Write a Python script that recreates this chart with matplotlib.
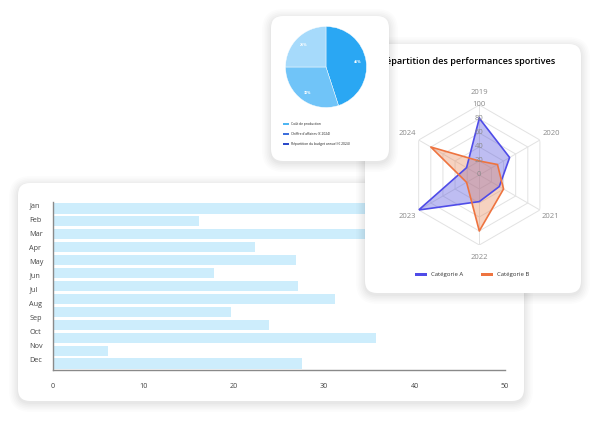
import numpy as np
import matplotlib
matplotlib.use("Agg")
import matplotlib.pyplot as plt
from matplotlib.patches import FancyBboxPatch
from matplotlib.transforms import IdentityTransform

plt.rcParams['font.family'] = ['Open Sans', 'DejaVu Sans']

# bar chart data (13 bars drawn against 12 month labels, as in the original)
months = ["Jan", "Feb", "Mar", "Apr", "May", "Jun",
          "Jul", "Aug", "Sep", "Oct", "Nov", "Dec"]
bar_values = [38, 16.2, 40, 22.3, 26.9, 17.8, 27.1, 31.2, 19.7, 23.9, 35.7, 6.1, 27.5]
bar_ticks = [0, 10, 20, 30, 40, 50]

# pie data
pie_values = [45, 30, 25]
pie_labels = ["45%", "30%", "25%"]
pie_colors = ["#2aa7f3", "#70c4f8", "#a6dafb"]
pie_legend = ["Coût de production", "Chiffre d'affaires (€ 2024)",
              "Répartition du budget annuel (€ 2024)"]
pie_legend_colors = ["#4fb6f2", "#3d6fdc", "#2b49c9"]

# radar data
years = ["2019", "2020", "2021", "2022", "2023", "2024"]
cat_a = [81, 50, 33, 38, 100, 21]
cat_b = [20, 30, 40, 80, 21, 80]
radar_rings = [20, 40, 60, 80, 100]

W, H = 600, 423
fig = plt.figure(figsize=(6, 4.23), dpi=100)
fig.patch.set_facecolor("white")


def card(x0, y0, x1, y1, z):
    # rounded white card with a soft shadow, coordinates in pixels from top-left
    for i, a in enumerate([0.010, 0.012, 0.014, 0.016, 0.018, 0.02]):
        g = 9 - i * 1.6
        sh = FancyBboxPatch((x0 - g, H - y1 - g - 2), (x1 - x0) + 2 * g, (y1 - y0) + 2 * g,
                            boxstyle="round,pad=0,rounding_size=%f" % (12 + g),
                            transform=IdentityTransform(), facecolor="#000000",
                            edgecolor="none", alpha=a, zorder=z)
        fig.add_artist(sh)
    box = FancyBboxPatch((x0, H - y1), x1 - x0, y1 - y0,
                         boxstyle="round,pad=0,rounding_size=12",
                         transform=IdentityTransform(), facecolor="white",
                         edgecolor="none", zorder=z + 0.1)
    fig.add_artist(box)


def ax_rect(x0, y0, x1, y1):
    return [x0 / W, 1 - y1 / H, (x1 - x0) / W, (y1 - y0) / H]


# ---- bar card
card(18, 183, 524, 401, 1)
ax = fig.add_axes(ax_rect(53, 202, 505, 370))
ax.set_zorder(2)
ax.patch.set_visible(False)
ypos = np.arange(len(bar_values)) + 0.5
ax.barh(ypos, bar_values, height=0.78, color="#cdedfc")
ax.set_ylim(len(bar_values), 0)
ax.set_xlim(0, 50)
ax.set_xticks(bar_ticks)
ax.set_yticks(np.arange(len(months)) * len(bar_values) / len(months) + 0.25)
ax.set_yticklabels(months, ha="left")
ax.tick_params(axis="y", length=0, pad=17, labelsize=5.2, labelcolor="#444444")
ax.tick_params(axis="x", length=0, pad=9, labelsize=5.2, labelcolor="#444444")
for s in ["top", "right"]:
    ax.spines[s].set_visible(False)
for s in ["left", "bottom"]:
    ax.spines[s].set_color("#8a8a8a")
    ax.spines[s].set_linewidth(1)

# ---- radar card
card(365, 44, 581, 293, 3)
fig.text(380 / W, 1 - 62 / H, "Répartition des performances sportives",
         fontsize=6.6, fontweight="semibold", va="center", ha="left", zorder=3.5)
rx, ry, rr = 479.3, 175, 70
rax = fig.add_axes(ax_rect(rx - rr, ry - rr, rx + rr, ry + rr), polar=True)
rax.set_zorder(4)
rax.patch.set_visible(False)
rax.set_theta_offset(np.pi / 2)
rax.set_theta_direction(-1)
rax.set_ylim(0, 100)
rax.grid(False)
rax.spines["polar"].set_visible(False)
rax.set_xticks([])
rax.set_yticks([])
ang = np.arange(len(years)) * 2 * np.pi / len(years)
ang_c = np.append(ang, ang[0])
for r in radar_rings:
    rax.plot(ang_c, [r] * len(ang_c), color="#e2e2e2", lw=0.7, zorder=1)
for t in ang:
    rax.plot([t, t], [0, 100], color="#e2e2e2", lw=0.7, zorder=1)
a_c = np.append(cat_a, cat_a[0])
b_c = np.append(cat_b, cat_b[0])
rax.fill(ang_c, a_c, color="#5553dd", alpha=0.38, lw=0, zorder=2)
rax.plot(ang_c, a_c, color="#4f4ce8", lw=1.2, zorder=3)
rax.fill(ang_c, b_c, color="#e9895a", alpha=0.38, lw=0, zorder=2)
rax.plot(ang_c, b_c, color="#ee7440", lw=1.2, zorder=3)
for r in [0] + radar_rings:
    rax.text(0, r, str(r), ha="center", va="center", fontsize=5.5,
             color="#8a8a8a", zorder=4)
for t, y in zip(ang, years):
    rax.text(t, 118, y, ha="center", va="center", fontsize=5.5,
             color="#8a8a8a", clip_on=False)

# radar legend
leg_items = [("Catégorie A", "#4f4ce8", 415), ("Catégorie B", "#ee7440", 481)]
for lab, col, lx in leg_items:
    sw = FancyBboxPatch((lx, H - 275.5), 12, 3, boxstyle="square,pad=0",
                        transform=IdentityTransform(), facecolor=col,
                        edgecolor="none", zorder=4.5)
    fig.add_artist(sw)
    fig.text((lx + 16) / W, 1 - 274 / H, lab, fontsize=4.3, va="center",
             ha="left", color="#333333", zorder=4.5)

# ---- pie card
card(271, 16, 389, 161, 5)
pax = fig.add_axes(ax_rect(326 - 40.5, 67 - 40.5, 326 + 40.5, 67 + 40.5))
pax.set_zorder(6)
wedges, texts = pax.pie(pie_values, colors=pie_colors, startangle=90,
                        counterclock=False, labels=pie_labels, labeldistance=0.78,
                        wedgeprops=dict(edgecolor="white", linewidth=0.3),
                        textprops=dict(fontsize=2.6, color="white", fontweight="bold"))
for t in texts:
    t.set_ha("center")
pax.set_xlim(-1, 1)
pax.set_ylim(-1, 1)
pax.set_aspect("equal")

for i, (lab, col) in enumerate(zip(pie_legend, pie_legend_colors)):
    yy = 124.3 + i * 9.7
    sw = FancyBboxPatch((283, H - yy - 1), 6, 2, boxstyle="square,pad=0",
                        transform=IdentityTransform(), facecolor=col,
                        edgecolor="none", zorder=6.5)
    fig.add_artist(sw)
    fig.text(291 / W, 1 - yy / H, lab, fontsize=2.4, va="center", ha="left",
             color="#222222", zorder=6.5)

fig.savefig("out.png", dpi=100)
